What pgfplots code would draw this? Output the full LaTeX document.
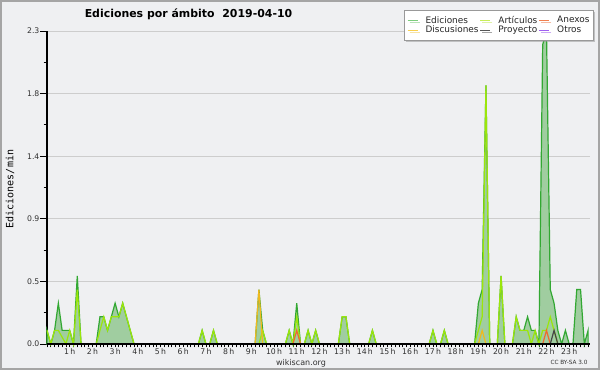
\documentclass[border=0pt]{standalone}
\usepackage{pgfplots}
\pgfplotsset{compat=1.18}
\usepackage{pgfplotstable}
\usepackage{fontspec}
\setmainfont{DejaVu Sans}
\newfontfamily\monofont{DejaVu Sans Mono}
\usetikzlibrary{shadows}

\definecolor{bgc}{RGB}{239,240,242}
\definecolor{brd}{RGB}{165,165,165}
\definecolor{gridc}{RGB}{205,205,205}
\definecolor{edl}{RGB}{50,168,50}
\definecolor{edf}{RGB}{160,205,160}
\definecolor{artc}{RGB}{155,230,10}
\definecolor{disc}{RGB}{240,185,30}
\definecolor{anxc}{RGB}{240,105,45}
\definecolor{proc}{RGB}{70,70,70}
\definecolor{otrc}{RGB}{150,80,230}
\definecolor{lgEd}{RGB}{125,205,125}
\definecolor{lgDi}{RGB}{248,208,80}
\definecolor{lgAr}{RGB}{200,238,90}
\definecolor{lgPr}{RGB}{85,85,85}
\definecolor{lgAn}{RGB}{240,128,80}
\definecolor{lgOt}{RGB}{160,96,240}
\definecolor{tlab}{RGB}{50,50,50}

\pgfplotstableread{
i ed art
0 0.1 0.1
1 0 0
2 0.1 0.1
3 0.3 0.1
4 0.1 0.05
5 0.1 0
6 0.1 0.1
7 0 0
8 0.5 0.4
9 0 0
10 0 0
11 0 0
12 0 0
13 0 0
14 0.2 0.1
15 0.2 0.2
16 0.1 0.1
17 0.2 0.2
18 0.3 0.2
19 0.2 0.2
20 0.3 0.3
21 0.2 0.2
22 0.1 0.1
23 0 0
24 0 0
25 0 0
26 0 0
27 0 0
28 0 0
29 0 0
30 0 0
31 0 0
32 0 0
33 0 0
34 0 0
35 0 0
36 0 0
37 0 0
38 0 0
39 0 0
40 0 0
41 0.1 0.1
42 0 0
43 0 0
44 0.1 0.1
45 0 0
46 0 0
47 0 0
48 0 0
49 0 0
50 0 0
51 0 0
52 0 0
53 0 0
54 0 0
55 0 0
56 0.4 0
57 0.1 0.1
58 0 0
59 0 0
60 0 0
61 0 0
62 0 0
63 0 0
64 0.1 0.1
65 0 0
66 0.3 0.2
67 0 0
68 0 0
69 0.1 0.1
70 0 0
71 0.1 0.1
72 0 0
73 0 0
74 0 0
75 0 0
76 0 0
77 0 0
78 0.2 0.2
79 0.2 0.2
80 0 0
81 0 0
82 0 0
83 0 0
84 0 0
85 0 0
86 0.1 0.1
87 0 0
88 0 0
89 0 0
90 0 0
91 0 0
92 0 0
93 0 0
94 0 0
95 0 0
96 0 0
97 0 0
98 0 0
99 0 0
100 0 0
101 0 0
102 0.1 0.1
103 0 0
104 0 0
105 0.1 0.1
106 0 0
107 0 0
108 0 0
109 0 0
110 0 0
111 0 0
112 0 0
113 0 0
114 0.3 0.1
115 0.4 0.2
116 1.9 1.9
117 0 0
118 0 0
119 0 0
120 0.5 0.5
121 0 0
122 0 0
123 0 0
124 0.2 0.2
125 0.1 0.1
126 0.1 0.1
127 0.2 0.1
128 0.1 0
129 0.1 0.1
130 0 0
131 2.2 0.1
132 2.3 0.1
133 0.4 0.2
134 0.3 0.1
135 0.1 0
136 0 0
137 0.1 0
138 0 0
139 0 0
140 0.4 0
141 0.4 0
142 0 0
143 0.1 0
}\datatab

\begin{document}
\begin{tikzpicture}
\fill[bgc] (0,0) rectangle (450pt,277.5pt);
\begin{axis}[
  at={(35.25pt,19.5pt)}, anchor=south west,
  scale only axis, width=407.25pt, height=234.75pt,
  xmin=0, xmax=143.5, ymin=0, ymax=2.3,
  clip=false,
  axis x line*=bottom, axis y line*=left,
  axis line style={-, black, line width=1pt},
  tick align=outside,
  xtick={0,6,...,138},
  xticklabels={,1\,h,2\,h,3\,h,4\,h,5\,h,6\,h,7\,h,8\,h,9\,h,10\,h,11\,h,12\,h,13\,h,14\,h,15\,h,16\,h,17\,h,18\,h,19\,h,20\,h,21\,h,22\,h,23\,h},
  minor xtick={0,1,...,143},
  major x tick style={draw=none},
  minor x tick style={black, line width=0.6pt},
  ytick={0,0.46,0.92,1.38,1.84,2.3},
  yticklabels={0.0,0.5,0.9,1.4,1.8,2.3},
  minor ytick={0.23,0.69,1.15,1.61,2.07},
  major y tick style={black, line width=0.6pt},
  minor y tick style={black, line width=0.6pt},
  major tick length=5pt, minor tick length=2.5pt,
  ymajorgrids, major grid style={gridc, line width=0.7pt},
  tick label style={font=\fontsize{5.8}{6}\selectfont, text=tlab},
  xticklabel style={inner sep=0.5pt, yshift=1.9pt},
  yticklabel style={inner sep=0.5pt},
  ylabel={\monofont Ediciones/min},
  ylabel style={at={(axis description cs:-0.068,0.495)}, anchor=center, font=\fontsize{7.5}{8}\selectfont},
  xlabel={wikiscan.org},
  xlabel style={at={(axis description cs:0.4678,-0.061)}, anchor=center, font=\fontsize{6}{7}\selectfont, text=tlab},
  every axis title shift=0pt,
  title={Ediciones por ámbito\hspace{0.7em}2019-04-10},
  title style={at={(axis description cs:0.2606,1.054)}, anchor=center, font=\bfseries\fontsize{8.2}{9}\selectfont},
  legend columns=3,
  legend image code/.code={\draw[#1] (0pt,0pt) -- (7.5pt,0pt);},
  legend style={at={(axis description cs:0.6575,1.067)}, anchor=north west,
    fill=white, draw=gray!80, line width=0.5pt,
    drop shadow={shadow xshift=1.5pt, shadow yshift=-1.5pt, fill=gray!85},
    font=\fontsize{6.7}{7}\selectfont, text=black!85,
    inner xsep=2pt, inner ysep=3.3pt, row sep=-1.5pt,
    nodes={inner sep=1pt},
    /tikz/every odd column/.append style={column sep=4.5pt}},
  legend cell align=left,
]
\addlegendimage{lgEd, line width=0.9pt}\addlegendentry{Ediciones}
\addlegendimage{lgAr, line width=0.9pt}\addlegendentry{Artículos}
\addlegendimage{lgAn, line width=0.9pt}\addlegendentry{Anexos}
\addlegendimage{lgDi, line width=0.9pt}\addlegendentry{Discusiones}
\addlegendimage{lgPr, line width=0.9pt}\addlegendentry{Proyecto}
\addlegendimage{lgOt, line width=0.9pt}\addlegendentry{Otros}

\addplot[forget plot, draw=edl, line width=0.9pt, fill=edf] table[x=i, y=ed]{\datatab} \closedcycle;
\addplot[forget plot, artc, line width=0.9pt] table[x=i, y=art]{\datatab};
\addplot[forget plot, disc, line width=0.9pt] coordinates {(55,0) (56,0.4) (57,0)};
\addplot[forget plot, disc, line width=0.9pt] coordinates {(114,0) (115,0.1) (116,0)};
\addplot[forget plot, anxc, line width=0.9pt] coordinates {(65,0) (66,0.1) (67,0)};
\addplot[forget plot, anxc, line width=0.9pt] coordinates {(131,0) (132,0.1) (133,0)};
\addplot[forget plot, proc, line width=0.9pt] coordinates {(133,0) (134,0.1) (135,0)};
\draw[black, line width=1.5pt] (axis cs:0,0) -- (axis cs:143.5,0);
\node[font=\fontsize{4.3}{5}\selectfont, text=tlab] at (axis description cs:0.9613,-0.0575) {CC BY-SA 3.0};
\end{axis}
\draw[brd, line width=1.2pt] (0.6pt,0.6pt) rectangle (449.4pt,276.9pt);
\pgfresetboundingbox
\useasboundingbox (0,0) rectangle (450pt,277.5pt);
\end{tikzpicture}
\end{document}
